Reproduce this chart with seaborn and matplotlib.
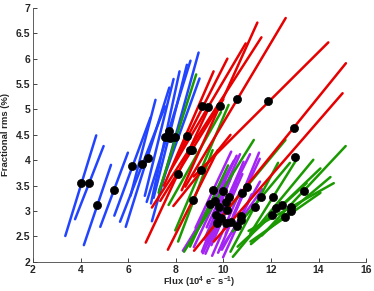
import pandas as pd
import matplotlib
matplotlib.use("Agg")
import matplotlib.pyplot as plt
import seaborn as sns

# segment end points (flux, rms) per colour group
blue_x0 = [3.36, 3.77, 4.14, 4.83, 5.42, 5.66, 5.90, 6.96, 6.78, 7.07, 7.00, 7.30, 6.70, 6.10]
blue_y0 = [2.51, 2.84, 2.33, 2.69, 2.91, 2.79, 2.69, 3.15, 3.18, 3.26, 2.80, 3.40, 3.30, 3.30]
blue_x1 = [4.66, 4.97, 5.28, 5.99, 6.94, 7.55, 7.73, 8.16, 8.62, 8.47, 8.96, 9.00, 7.91, 7.15]
blue_y1 = [4.49, 4.28, 3.91, 4.15, 4.84, 5.06, 5.43, 5.75, 5.96, 5.88, 6.12, 5.61, 5.60, 5.19]

red_x0 = [8.77, 9.60, 8.75, 8.40, 8.25, 7.76, 8.00, 7.00, 6.74, 7.67, 7.50, 7.90, 7.35]
red_y0 = [2.22, 2.40, 3.68, 3.48, 3.41, 3.78, 4.00, 3.07, 2.38, 2.24, 3.50, 3.10, 3.20]
red_x1 = [15.15, 15.01, 14.41, 12.62, 11.43, 10.94, 10.17, 11.60, 9.44, 9.77, 9.59, 10.30, 10.00]
red_y1 = [5.91, 5.32, 6.32, 6.80, 6.71, 6.30, 6.00, 6.42, 5.08, 4.20, 5.75, 4.50, 5.20]

green_x0 = [7.28, 7.98, 7.70, 8.10, 8.35, 9.35, 8.60, 11.62, 11.06, 11.16, 10.86, 10.40, 11.14, 11.13, 10.60, 10.40, 10.30]
green_y0 = [3.36, 2.62, 3.12, 2.40, 2.20, 2.56, 2.30, 2.52, 2.61, 2.35, 2.40, 2.10, 2.40, 2.56, 2.30, 2.60, 2.20]
green_x1 = [8.86, 10.22, 9.90, 9.55, 11.28, 12.61, 10.20, 15.14, 14.64, 14.50, 14.08, 13.78, 14.08, 13.03, 13.50, 12.80, 12.30]
green_y1 = [5.69, 5.09, 4.95, 4.20, 4.40, 4.40, 3.90, 4.28, 3.55, 3.67, 3.84, 4.01, 3.36, 3.98, 3.55, 3.95, 3.95]

purple_x0 = [8.44, 8.83, 9.30, 9.32, 10.10, 10.43, 8.76, 9.20, 9.35, 9.50, 9.10, 9.25, 9.14, 9.53, 9.78, 9.99, 9.94, 9.83, 8.30]
purple_y0 = [2.29, 2.67, 2.68, 2.42, 2.55, 2.93, 2.29, 2.44, 2.37, 2.33, 2.20, 2.16, 2.17, 2.12, 2.18, 2.09, 2.24, 2.23, 2.22]
purple_x1 = [10.44, 10.33, 10.70, 11.12, 11.50, 11.53, 10.56, 10.40, 10.85, 10.80, 10.30, 10.55, 10.34, 10.73, 10.88, 11.19, 11.54, 11.63, 10.10]
purple_y1 = [3.99, 4.17, 4.12, 4.12, 4.15, 4.03, 4.09, 3.74, 3.97, 3.73, 3.64, 3.56, 3.37, 3.42, 3.38, 3.33, 3.58, 3.43, 3.58]

# black markers
dot_x = [4.02, 4.37, 4.71, 5.41, 6.18, 6.60, 6.83, 7.56, 7.73, 7.77, 7.98,
         12.95, 12.99, 11.89, 10.59, 9.84, 9.35, 9.12, 8.58, 8.68, 8.09, 8.72, 8.47, 9.08,
         13.38, 12.85, 12.83, 12.47, 12.23, 12.61, 12.08, 12.05, 11.59, 11.32,
         9.44, 9.58, 10.00, 10.22, 10.80, 10.98, 9.66, 9.80, 10.10, 10.15, 9.70, 9.90,
         9.74, 10.13, 10.33, 10.59, 10.74, 10.73]
dot_y = [3.55, 3.56, 3.12, 3.42, 3.88, 3.93, 4.05, 4.45, 4.57, 4.43, 4.45,
         4.63, 4.07, 5.16, 5.20, 5.06, 5.04, 5.06, 4.20, 4.20, 3.73, 3.22, 4.47, 3.81,
         3.40, 3.08, 3.01, 3.12, 3.06, 2.88, 3.27, 2.93, 3.27, 3.09,
         3.14, 3.42, 3.40, 3.27, 3.35, 3.48, 3.19, 3.09, 3.17, 3.03, 2.92, 2.86,
         2.77, 2.77, 2.78, 2.71, 2.91, 2.83]

groups = {
    "blue": (blue_x0, blue_y0, blue_x1, blue_y1),
    "purple": (purple_x0, purple_y0, purple_x1, purple_y1),
    "green": (green_x0, green_y0, green_x1, green_y1),
    "red": (red_x0, red_y0, red_x1, red_y1),
}
colors = {"blue": "#2244ff", "purple": "#a424f4", "green": "#1a9a00", "red": "#e60000"}

rows = []
for g, (x0, y0, x1, y1) in groups.items():
    for i in range(len(x0)):
        seg = g + str(i)
        rows.append({"seg": seg, "group": g, "x": x0[i], "y": y0[i]})
        rows.append({"seg": seg, "group": g, "x": x1[i], "y": y1[i]})
df = pd.DataFrame(rows)

sns.set_style("ticks")
plt.rcParams["font.family"] = ["Liberation Sans", "DejaVu Sans"]
plt.rcParams["mathtext.default"] = "regular"

fig = plt.figure(figsize=(3.74, 2.91), dpi=100)
ax = fig.add_axes([0.088, 0.10, 0.891, 0.873])

sns.lineplot(data=df, x="x", y="y", hue="group", units="seg", estimator=None,
             palette=colors, hue_order=["blue", "purple", "green", "red"],
             linewidth=1.8, legend=False, sort=False, ax=ax)
sns.scatterplot(x=dot_x, y=dot_y, color="black", s=34, edgecolor="black",
                linewidth=0.5, zorder=5, ax=ax)

ax.set_xlim(2, 16)
ax.set_ylim(2, 7)
ax.set_xticks([2, 4, 6, 8, 10, 12, 14, 16])
ax.set_yticks([2, 2.5, 3, 3.5, 4, 4.5, 5, 5.5, 6, 6.5, 7])
ax.set_yticklabels(["2", "2.5", "3", "3.5", "4", "4.5", "5", "5.5", "6", "6.5", "7"])
ax.tick_params(direction="in", length=3, width=0.6, labelsize=7.5, pad=2)
for lab in ax.get_xticklabels() + ax.get_yticklabels():
    lab.set_fontweight("bold")
ax.set_xlabel("Flux (10$^4$ e$^{-}$ s$^{-1}$)", fontsize=6.8, fontweight="bold", labelpad=0)
ax.set_ylabel("Fractional rms (%)", fontsize=6.8, fontweight="bold", labelpad=4)
sns.despine(ax=ax)
for sp in ["left", "bottom"]:
    ax.spines[sp].set_linewidth(0.6)
    ax.spines[sp].set_color("#444444")

fig.savefig("out.png", dpi=100)
